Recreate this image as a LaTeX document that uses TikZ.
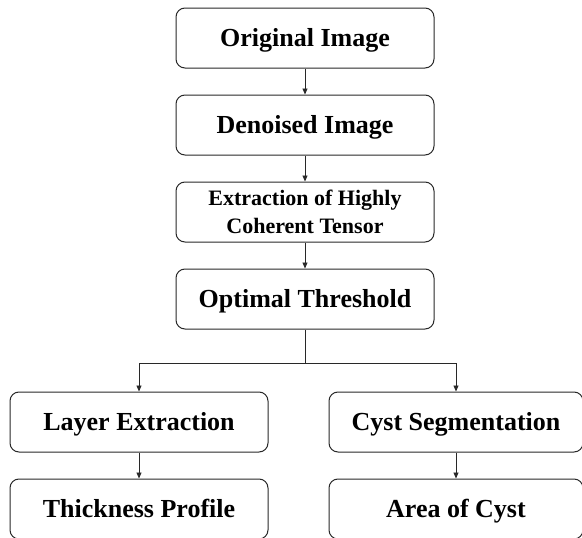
\documentclass[tikz,border=0pt]{standalone}
\usepackage{fontspec}
\setmainfont{Liberation Serif}
\usetikzlibrary{arrows.meta, positioning}
\definecolor{linegray}{RGB}{40,40,40}

\begin{document}
\begin{tikzpicture}[
    x=1pt, y=1pt,
    node distance=26pt and 60pt,
    stage/.style={rectangle, draw=linegray, rounded corners=9pt, line width=1pt,
                  minimum width=258pt, minimum height=60pt,
                  font=\fontsize{26}{30}\selectfont\bfseries, align=center,
                  text height=17.5pt, text depth=0pt},
    twoline/.style={font=\fontsize{22}{28}\selectfont\bfseries,
                    text height=, text depth=},
    arr/.style={-{Triangle[length=6pt,width=5pt]}, line width=0.9pt, color=linegray}
]
\useasboundingbox (0,0) rectangle (582,-538);

% Main chain
\node[stage] (orig) at (305,-38) {Original Image};
\node[stage, below=of orig] (denoise) {Denoised Image};
\node[stage, twoline, below=of denoise] (tensor) {Extraction of Highly\\Coherent Tensor};
\node[stage, below=of tensor] (thresh) {Optimal Threshold};

% Branches
\node[stage] (layer) at (139,-422) {Layer Extraction};
\node[stage, minimum width=254pt] (cyst) at (456,-422) {Cyst Segmentation};
\node[stage, below=of layer] (thick) {Thickness Profile};
\node[stage, below=of cyst, minimum width=254pt] (area) {Area of Cyst};

\coordinate (split) at ([yshift=-34pt]thresh.south);

% Arrows
\draw[arr] (orig) -- (denoise);
\draw[arr] (denoise) -- (tensor);
\draw[arr] (tensor) -- (thresh);
\draw[arr] (thresh.south) -- (split) -| (layer.north);
\draw[arr] (split) -| (cyst.north);
\draw[arr] (layer) -- (thick);
\draw[arr] (cyst) -- (area);

\end{tikzpicture}
\end{document}
